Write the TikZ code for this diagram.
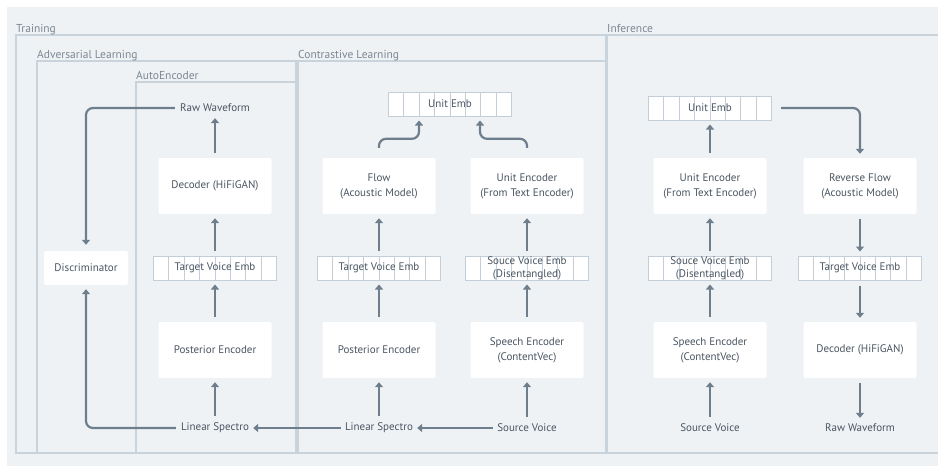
\documentclass[tikz,border=0pt]{standalone}
\usepackage{fontspec}
\setmainfont{PT Sans}
\usetikzlibrary{positioning,arrows.meta}
\definecolor{panelbg}{HTML}{EEF2F5}
\definecolor{framec}{HTML}{C9D3DC}
\definecolor{cellc}{HTML}{C3CED8}
\definecolor{flowc}{HTML}{6F7E8C}
\definecolor{textc}{HTML}{4A5561}
\definecolor{labelc}{HTML}{7D8792}
\tikzset{
  frame/.style={draw=framec, line width=1.3pt},
  framelabel/.style={anchor=base west, inner sep=0pt, text=labelc, font=\fontsize{11.5}{13}\selectfont},
  blockbox/.style={fill=white, rounded corners=2pt, minimum width=113pt, minimum height=56pt, align=center, text=textc, font=\fontsize{11}{15}\selectfont},
  discbox/.style={blockbox, minimum width=84pt, minimum height=34pt},
  embstrip/.style={draw=cellc, line width=1pt, fill=white, minimum width=123pt, minimum height=24pt, inner sep=0pt, align=center, text=textc, font=\fontsize{11}{13}\selectfont,
    path picture={\foreach \k in {1,...,7}
      \draw[cellc, line width=1pt] ([xshift=\k*15.375pt]path picture bounding box.south west) -- ([xshift=\k*15.375pt]path picture bounding box.north west);}},
  plaintext/.style={inner sep=2pt, text=textc, font=\fontsize{11}{13}\selectfont},
  flowarrow/.style={draw=flowc, line width=2.2pt, -{Triangle[length=5pt,width=8pt]}, shorten <=5pt, shorten >=4pt, rounded corners=7pt}
}

\begin{document}
\begin{tikzpicture}[x=1pt, y=-1pt]
  \useasboundingbox (0,0) rectangle (938,466);
  \fill[white] (0,0) rectangle (938,466);
  \fill[panelbg] (7,7) rectangle (938,466);

  % frames
  \draw[frame] (16,35) rectangle (606,453);
  \draw[frame] (940,35) -- (607,35) -- (607,453) -- (940,453);
  \draw[frame] (37,61) rectangle (296,453);
  \draw[frame] (136,82) rectangle (296,453);
  \draw[frame] (298,61) rectangle (606,453);
  \node[framelabel] (trainLbl) at (16,32) {Training};
  \node[framelabel] (inferLbl) at (607,32) {Inference};
  \node[framelabel] (advLbl) at (37,58) {Adversarial Learning};
  \node[framelabel] (aeLbl) at (136,79) {AutoEncoder};
  \node[framelabel] (clLbl) at (298,58) {Contrastive Learning};

  % adversarial / autoencoder
  \node[plaintext] (aeWave) at (215,108) {Raw Waveform};
  \node[blockbox] (aeDec) at (215,186) {Decoder (HiFiGAN)};
  \node[embstrip] (aeTgt) at (215,268) {Target Voice Emb};
  \node[blockbox] (aePost) at (215,350) {Posterior Encoder};
  \node[plaintext] (aeSpec) at (215,428) {Linear Spectro};
  \node[discbox] (disc) at (86,268) {Discriminator};

  % contrastive
  \node[embstrip] (clEmb) at (450,104) {Unit Emb};
  \node[blockbox] (clFlow) at (379,186) {Flow\\(Acoustic Model)};
  \node[blockbox] (clUnit) at (527,186) {Unit Encoder\\(From Text Encoder)};
  \node[embstrip] (clTgt) at (379,268) {Target Voice Emb};
  \node[embstrip] (clSrc) at (527,268) {Souce Voice Emb\\(Disentangled)};
  \node[blockbox] (clPost) at (379,350) {Posterior Encoder};
  \node[blockbox] (clSpeech) at (527,350) {Speech Encoder\\(ContentVec)};
  \node[plaintext] (clSpec) at (379,428) {Linear Spectro};
  \node[plaintext] (clVoice) at (527,428) {Source Voice};

  % inference
  \node[embstrip] (infEmb) at (710,108) {Unit Emb};
  \node[blockbox] (infUnit) at (710,186) {Unit Encoder\\(From Text Encoder)};
  \node[blockbox] (infRev) at (860,186) {Reverse Flow\\(Acoustic Model)};
  \node[embstrip] (infSrc) at (710,268) {Souce Voice Emb\\(Disentangled)};
  \node[embstrip] (infTgt) at (860,268) {Target Voice Emb};
  \node[blockbox] (infSpeech) at (710,350) {Speech Encoder\\(ContentVec)};
  \node[blockbox] (infDec) at (860,350) {Decoder (HiFiGAN)};
  \node[plaintext] (infVoice) at (710,428) {Source Voice};
  \node[plaintext] (infWave) at (860,428) {Raw Waveform};

  % arrows
  \draw[flowarrow] (aeSpec) -- (aePost);
  \draw[flowarrow] (aePost) -- (aeTgt);
  \draw[flowarrow] (aeTgt) -- (aeDec);
  \draw[flowarrow] (aeDec) -- (aeWave);
  \draw[flowarrow, shorten <=3pt, shorten >=6pt] (aeWave.west) -| (disc.north);
  \draw[flowarrow, shorten <=3pt] (aeSpec.west) -| (disc.south);
  \draw[flowarrow, shorten <=2pt, shorten >=2pt] (clSpec.west) -- (aeSpec.east);
  \draw[flowarrow, shorten <=2pt, shorten >=2pt] (clVoice.west) -- (clSpec.east);
  \draw[flowarrow] (clSpec) -- (clPost);
  \draw[flowarrow] (clVoice) -- (clSpeech);
  \draw[flowarrow] (clPost) -- (clTgt);
  \draw[flowarrow] (clSpeech) -- (clSrc);
  \draw[flowarrow] (clTgt) -- (clFlow);
  \draw[flowarrow] (clSrc) -- (clUnit);
  \draw[flowarrow, shorten <=10pt] (clFlow.north) -- ++(0,-19) -| ([xshift=-31pt]clEmb.south);
  \draw[flowarrow, shorten <=10pt] (clUnit.north) -- ++(0,-19) -| ([xshift=30pt]clEmb.south);
  \draw[flowarrow] (infVoice) -- (infSpeech);
  \draw[flowarrow] (infSpeech) -- (infSrc);
  \draw[flowarrow] (infSrc) -- (infUnit);
  \draw[flowarrow] (infUnit) -- (infEmb);
  \draw[flowarrow, shorten <=9pt] (infEmb.east) -| (infRev.north);
  \draw[flowarrow] (infRev) -- (infTgt);
  \draw[flowarrow] (infTgt) -- (infDec);
  \draw[flowarrow] (infDec) -- (infWave);
\end{tikzpicture}
\end{document}
